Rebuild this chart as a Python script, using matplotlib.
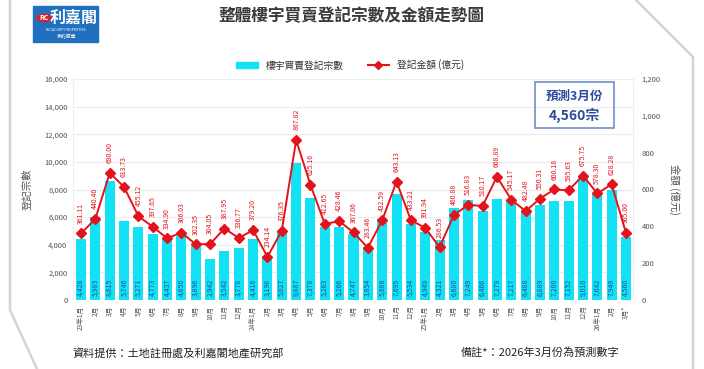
import matplotlib
matplotlib.use("Agg")
import matplotlib.pyplot as plt
from matplotlib.patches import Rectangle, Circle
from matplotlib.lines import Line2D

plt.rcParams['font.family'] = ['Noto Sans CJK TC', 'DejaVu Sans']

# Data.
months = ["23年1月", "2月", "3月", "4月", "5月", "6月", "7月", "8月", "9月", "10月", "11月", "12月",
          "24年1月", "2月", "3月", "4月", "5月", "6月", "7月", "8月", "9月", "10月", "11月", "12月",
          "25年1月", "2月", "3月", "4月", "5月", "6月", "7月", "8月", "9月", "10月", "11月", "12月",
          "26年1月", "2月", "3月*"]

counts = [4428, 5983, 8615, 5746, 5271, 4773, 4437, 4650, 3896, 2942, 3542, 3776,
          4416, 3196, 5027, 9887, 7378, 5263, 5266, 4747, 3854, 5868, 7695, 5534,
          4949, 4321, 6680, 7249, 6466, 7279, 7217, 6488, 6889, 7200, 7152, 9010,
          7642, 7949, 4560]

amounts = [361.11, 440.40, 690.00, 613.73, 455.12, 397.65, 334.90, 366.03, 302.35, 304.05, 387.95, 336.77,
           379.20, 234.14, 376.35, 867.82, 625.16, 412.65, 428.46, 367.06, 283.46, 432.59, 643.13, 433.21,
           391.94, 286.53, 460.88, 516.83, 510.17, 668.89, 545.17, 482.48, 550.31, 600.18, 595.63, 675.75,
           578.30, 628.28, 365.00]

bar_color = "#12e2f4"
line_color = "#e3131b"
W, H = 704, 369

fig = plt.figure(figsize=(7.04, 3.69), dpi=100)
fig.patch.set_facecolor("white")

ax = fig.add_axes([73 / W, 1 - 300 / H, 560 / W, 221 / H])
ax2 = ax.twinx()

x = list(range(len(months)))

ax.bar(x, counts, width=0.7, color=bar_color, zorder=2)
for i, c in zip(x, counts):
    ax.annotate(f"{c:,}", (i, 0), xytext=(0, 3), textcoords="offset points",
                rotation=90, ha="center", va="bottom", fontsize=5, color="#1c4fa0", zorder=3)

ax.set_xlim(-0.56, len(months) - 0.51)
ax.set_ylim(0, 16000)
ax.set_yticks(range(0, 16001, 2000))
ax.set_yticklabels([f"{v:,}" for v in range(0, 16001, 2000)], fontsize=5.5, color="#555555")
ax.set_xticks(x)
ax.set_xticklabels(months, rotation=90, fontsize=4.8, color="#555555")
ax.tick_params(length=0, pad=4)
ax.grid(axis="y", color="#ececec", lw=0.8, zorder=0)
ax.set_axisbelow(True)
ax.set_ylabel("登記宗數", fontsize=7.5, color="#555555", labelpad=8)

ax2.plot(x, amounts, color=line_color, lw=1.4, marker="D", markersize=5.5, zorder=4)
for i, a in zip(x, amounts):
    ax2.annotate(f"{a:.2f}", (i, a), xytext=(0, 7), textcoords="offset points",
                 rotation=90, ha="center", va="bottom", fontsize=5, color=line_color)
ax2.set_ylim(0, 1200)
ax2.set_yticks(range(0, 1201, 200))
ax2.set_yticklabels([f"{v:,}" for v in range(0, 1201, 200)], fontsize=5.5, color="#555555")
ax2.tick_params(length=0, pad=6)
ax2.set_ylabel("金額 (億元)", fontsize=7.5, color="#555555", rotation=270, labelpad=14)

for a in (ax, ax2):
    for s in ("top", "bottom"):
        a.spines[s].set_visible(False)
    a.spines["left"].set_color("#eeeeee")
    a.spines["right"].set_color("#eeeeee")

# Title and legend
fig.text(351 / W, 1 - 16 / H, "整體樓宇買賣登記宗數及金額走勢圖", ha="center", va="center",
         fontsize=12, fontweight="bold", color="#3a3a3a")
handles = [Rectangle((0, 0), 1, 1, color=bar_color),
           Line2D([0], [0], color=line_color, lw=1.5, marker="D", markersize=4)]
fig.legend(handles, ["樓宇買賣登記宗數", "登記金額 (億元)"], loc="center",
           bbox_to_anchor=(350 / W, 1 - 65 / H), ncol=2, frameon=False, fontsize=7,
           handlelength=2.2, columnspacing=2.5, labelcolor="#333333")

# Forecast box
fig.add_artist(Rectangle((535 / W, 1 - 128 / H), 79 / W, 46 / H, transform=fig.transFigure,
                         fill=False, edgecolor="#6f90c8", lw=1.2))
fig.text(574 / W, 1 - 96 / H, "預測3月份", ha="center", va="center", fontsize=9,
         fontweight="bold", color="#2b4c9c")
fig.text(574 / W, 1 - 115 / H, f"{counts[-1]:,}宗", ha="center", va="center", fontsize=10,
         fontweight="bold", color="#2b4c9c")

# Footer
fig.text(72 / W, 1 - 353 / H, "資料提供：土地註冊處及利嘉閣地產研究部", ha="left", va="center",
         fontsize=8, color="#222222")
fig.text(540 / W, 1 - 353 / H, "備註*：2026年3月份為預測數字", ha="center", va="center",
         fontsize=8, color="#222222")

# Logo
fig.add_artist(Rectangle((33 / W, 1 - 42 / H), 65 / W, 36 / H, transform=fig.transFigure,
                         color="#2170c0"))
fig.add_artist(Circle((44 / W, 1 - 18 / H), 7 / W, transform=fig.transFigure, color="#d62027"))
fig.text(44 / W, 1 - 18 / H, "RC", ha="center", va="center", fontsize=5, color="white",
         fontweight="bold")
fig.text(74 / W, 1 - 18 / H, "利嘉閣", ha="center", va="center", fontsize=11.5, color="white",
         fontweight="bold")
fig.text(66 / W, 1 - 30 / H, "RICACORP PROPERTIES", ha="center", va="center", fontsize=2.6,
         color="white")
fig.text(66 / W, 1 - 37 / H, "家的感覺", ha="center", va="center", fontsize=3.5, color="white")

# Card frame
frame = dict(color="#d4d4d4", lw=1.8, transform=fig.transFigure)
fig.add_artist(Line2D([10 / W, 10 / W, 37 / W], [1.0, 1 - 310 / H, 0.0], **frame))
fig.add_artist(Line2D([636 / W, 693 / W, 693 / W], [1.0, 1 - 57 / H, 0.0], **frame))

fig.savefig("out.png", dpi=100)
